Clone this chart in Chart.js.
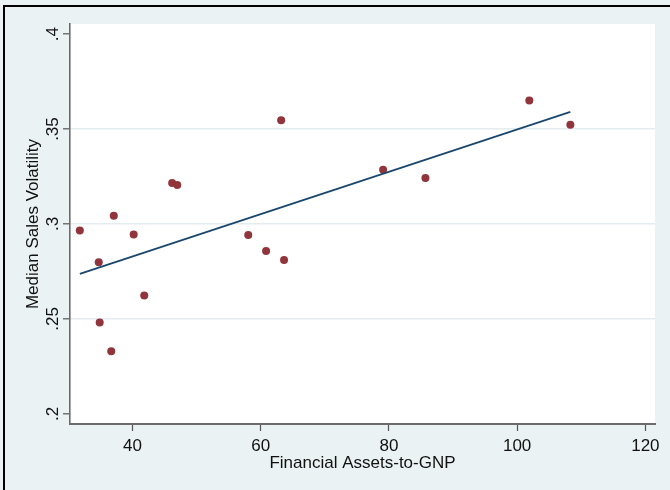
<!DOCTYPE html>
<html>
<head>
<meta charset="utf-8">
<script src="https://cdn.jsdelivr.net/npm/chart.js@4/dist/chart.umd.min.js"></script>
<style>
  body { margin: 0; background: #EAF2F3; }
  canvas { display: block; }
</style>
</head>
<body>
<canvas id="scatterChart" width="670" height="490"></canvas>
<script>
// financial assets-to-GNP (x) vs median sales volatility (y)
const assetsToGnp = [31.8, 34.75, 34.9, 36.7, 37.1, 40.2, 41.85, 46.2, 47.0, 58.07, 60.85, 63.2, 63.65, 79.1, 85.7, 101.9, 108.3];
const salesVolatility = [0.2966, 0.2798, 0.2482, 0.2330, 0.3044, 0.2945, 0.2623, 0.3216, 0.3205, 0.2942, 0.2858, 0.3546, 0.2811, 0.3286, 0.3242, 0.3650, 0.3522];

// fitted line, read at its two ends
const fitX = [31.8, 108.3];
const fitY = [0.2737, 0.3590];

const xTicks = [40, 60, 80, 100, 120];
const yTicks = [0.2, 0.25, 0.3, 0.35, 0.4];
const yTickLabels = ['.2', '.25', '.3', '.35', '.4'];

const FONT = '"Liberation Sans", Arial, Helvetica, sans-serif';

const backdrop = {
    id: 'backdrop',
    beforeDraw(chart) {
        const c = chart.ctx;
        const a = chart.chartArea;
        c.save();
        c.fillStyle = '#EAF2F3';
        c.fillRect(0, 0, chart.width, chart.height);
        c.fillStyle = '#ffffff';
        c.fillRect(a.left, a.top, a.right - a.left, a.bottom - a.top);
        c.restore();
    },
    afterDraw(chart) {
        const c = chart.ctx;
        c.save();
        c.fillStyle = '#000000';
        c.fillRect(3, 5, chart.width - 3, 2);
        c.fillRect(3, 5, 2, chart.height - 5);
        c.restore();
    }
};

const ctx = document.getElementById('scatterChart').getContext('2d');
const chart = new Chart(ctx, {
    type: 'scatter',
    data: {
        datasets: [{
            data: assetsToGnp.map((x, i) => ({ x: x, y: salesVolatility[i] })),
            backgroundColor: '#90353B',
            borderColor: '#90353B',
            pointRadius: 4,
            pointBorderWidth: 0,
            order: 2
        }, {
            type: 'line',
            data: fitX.map((x, i) => ({ x: x, y: fitY[i] })),
            borderColor: '#1A476F',
            borderWidth: 1.8,
            pointRadius: 0,
            fill: false,
            order: 1
        }]
    },
    options: {
        responsive: false,
        animation: false,
        layout: { padding: { top: 24, right: 15, left: 0, bottom: 0 } },
        plugins: {
            legend: { display: false },
            tooltip: { enabled: false }
        },
        scales: {
            x: {
                type: 'linear',
                min: 30.27,
                max: 121.5,
                afterBuildTicks: s => { s.ticks = xTicks.map(v => ({ value: v })); },
                afterFit: s => { s.height = 66; },
                grid: { drawOnChartArea: false, tickLength: 7, tickColor: '#555', tickWidth: 1.2 },
                border: { color: '#6b6b6b', width: 2 },
                ticks: {
                    padding: 5,
                    color: '#111',
                    font: { family: FONT, size: 17 },
                    maxRotation: 0
                },
                title: {
                    display: true,
                    text: 'Financial Assets-to-GNP',
                    color: '#111',
                    font: { family: FONT, size: 17 },
                    padding: { top: 0, bottom: 16 }
                }
            },
            y: {
                type: 'linear',
                min: 0.1947,
                max: 0.4053,
                afterBuildTicks: s => { s.ticks = yTicks.map(v => ({ value: v })); },
                afterFit: s => { s.width = 70; },
                grid: {
                    color: c => (c.tick && (c.tick.value === 0.25 || c.tick.value === 0.3 || c.tick.value === 0.35)) ? '#E3ECEF' : 'rgba(0,0,0,0)',
                    lineWidth: 1.6,
                    tickLength: 7,
                    tickColor: '#555',
                    tickWidth: 1.2
                },
                border: { color: '#6b6b6b', width: 1.6 },
                ticks: {
                    padding: -2,
                    color: '#111',
                    font: { family: FONT, size: 17 },
                    minRotation: 90,
                    maxRotation: 90,
                    crossAlign: 'center',
                    callback: (v, i) => yTickLabels[i]
                },
                title: {
                    display: true,
                    text: 'Median Sales Volatility',
                    color: '#111',
                    font: { family: FONT, size: 17 },
                    padding: { top: 23, bottom: 0 }
                }
            }
        }
    },
    plugins: [backdrop]
});
</script>
</body>
</html>
